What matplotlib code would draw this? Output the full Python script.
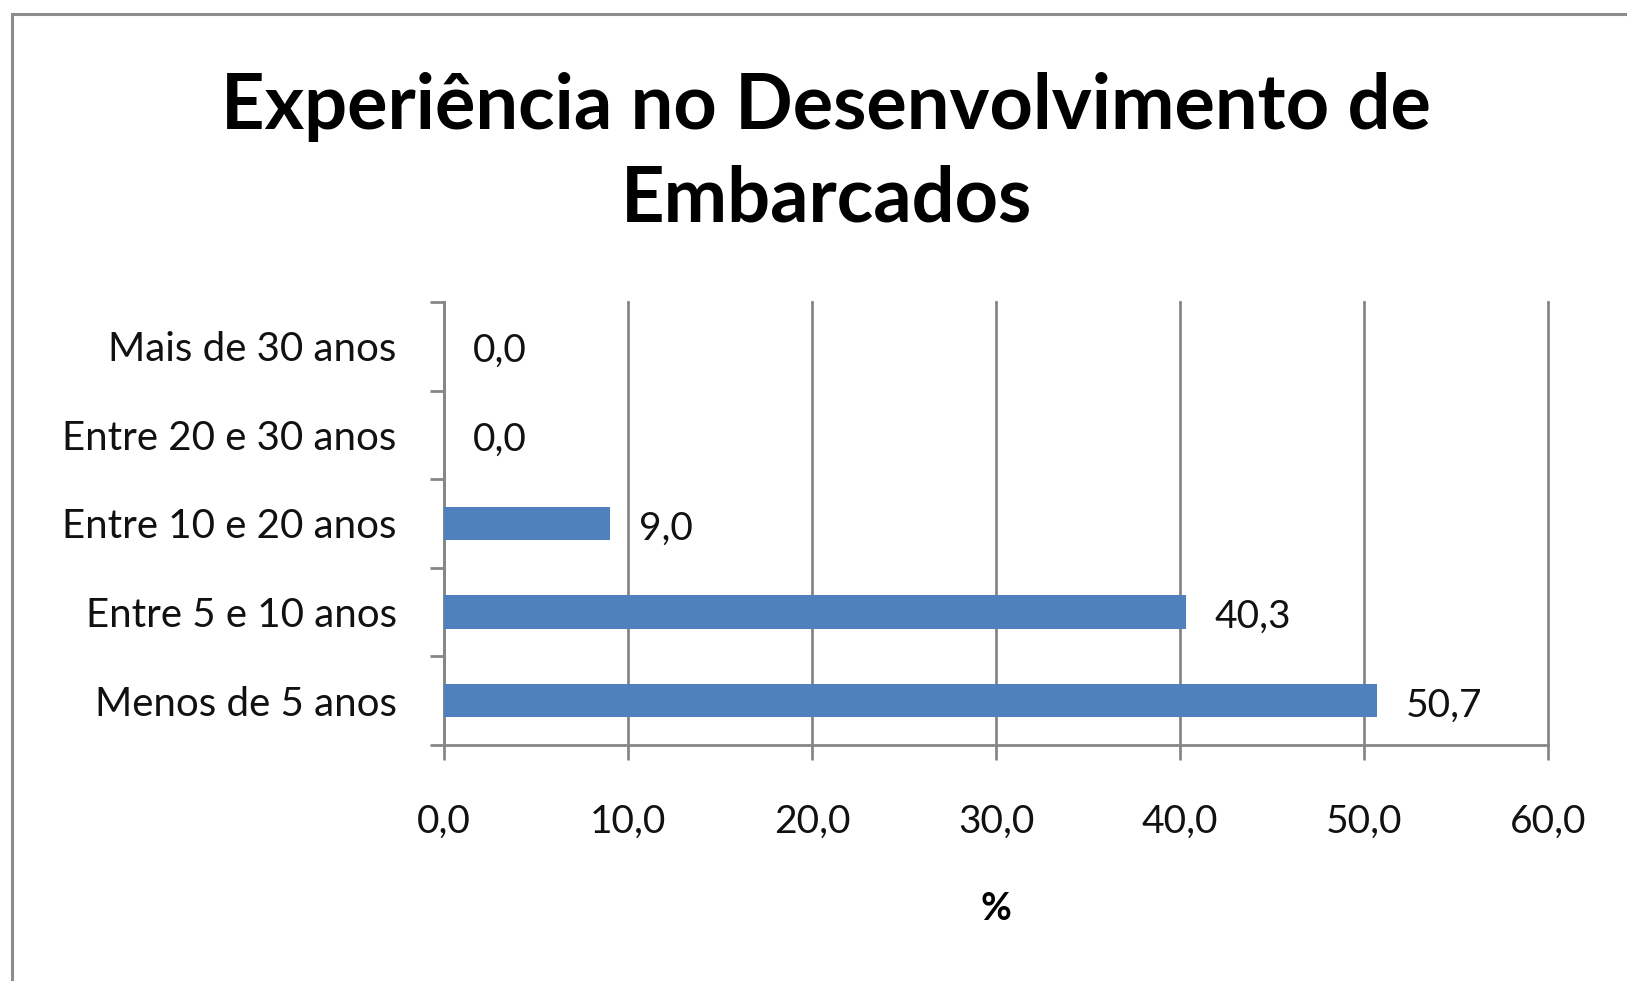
import matplotlib
matplotlib.use('Agg')
import matplotlib.pyplot as plt          # For plotting
from matplotlib.patches import Rectangle
from matplotlib.ticker import FixedLocator, FuncFormatter

# Experience ranges, bottom to top as drawn
categories = ['Menos de 5 anos', 'Entre 5 e 10 anos', 'Entre 10 e 20 anos',
              'Entre 20 e 30 anos', 'Mais de 30 anos']
percent = [50.7, 40.3, 9.0, 0.0, 0.0]
x_ticks = [0, 10, 20, 30, 40, 50, 60]

bar_color = '#4F81BD'
line_gray = '#868686'

plt.rcParams['font.family'] = ['Lato', 'DejaVu Sans']


def comma(v):
    # Portuguese decimal separator
    return ('%.1f' % v).replace('.', ',')


W, H = 1627, 981
fig = plt.figure(figsize=(W / 100, H / 100), dpi=100)

# Chart area frame (only the left and top edges fall inside the image)
fig.add_artist(Rectangle((12 / W, -0.2), 1.2, 1.2 - 14 / H,
                         transform=fig.transFigure, fill=False,
                         edgecolor='#8c8c8c', linewidth=2.2))

# Plot area in pixel units
left, right, top, bottom = 444, 1548, 302, 745
ax = fig.add_axes([left / W, 1 - bottom / H, (right - left) / W, (bottom - top) / H])

y = list(range(len(categories)))
ax.barh(y, percent, height=0.375, color=bar_color, zorder=3)

ax.set_xlim(0, 60)
ax.set_ylim(-0.5, len(categories) - 0.5)

# Vertical grid lines only
ax.xaxis.set_major_locator(FixedLocator(x_ticks))
ax.xaxis.set_major_formatter(FuncFormatter(lambda v, p: comma(v)))
ax.grid(axis='x', color=line_gray, linewidth=2.0, zorder=0)
ax.set_axisbelow(True)
for gl in ax.get_xgridlines():
    gl.set_clip_on(False)

for s in ['top', 'right']:
    ax.spines[s].set_visible(False)
for s in ['left', 'bottom']:
    ax.spines[s].set_color(line_gray)
    ax.spines[s].set_linewidth(2.0)

ax.tick_params(axis='x', direction='out', length=11, width=2.0, color=line_gray,
               labelsize=28, pad=31, labelcolor='#111111')

# Category labels at centres, tick marks at the boundaries
ax.set_yticks(y)
ax.set_yticklabels(categories, va='center_baseline')
ax.tick_params(axis='y', which='major', length=0, labelsize=29, pad=34,
               labelcolor='#111111')
ax.yaxis.set_minor_locator(FixedLocator([i - 0.5 for i in range(len(categories) + 1)]))
ax.tick_params(axis='y', which='minor', direction='out', length=10, width=2.0,
               color=line_gray)

# Value labels next to each bar
for yi, v in zip(y, percent):
    ax.annotate(comma(v), xy=(v, yi), xytext=(21, -3.5),
                textcoords='offset points', va='center', ha='left',
                fontsize=28, color='#111111')

ax.set_xlabel('%', fontsize=27, fontweight='bold', labelpad=38)

fig.text(826 / W, 1 - 107 / H, 'Experiência no Desenvolvimento de',
         ha='center', va='center', fontsize=54.5, fontweight='bold')
fig.text(827 / W, 1 - 200 / H, 'Embarcados',
         ha='center', va='center', fontsize=54.5, fontweight='bold')

fig.savefig('out.png', dpi=100)
